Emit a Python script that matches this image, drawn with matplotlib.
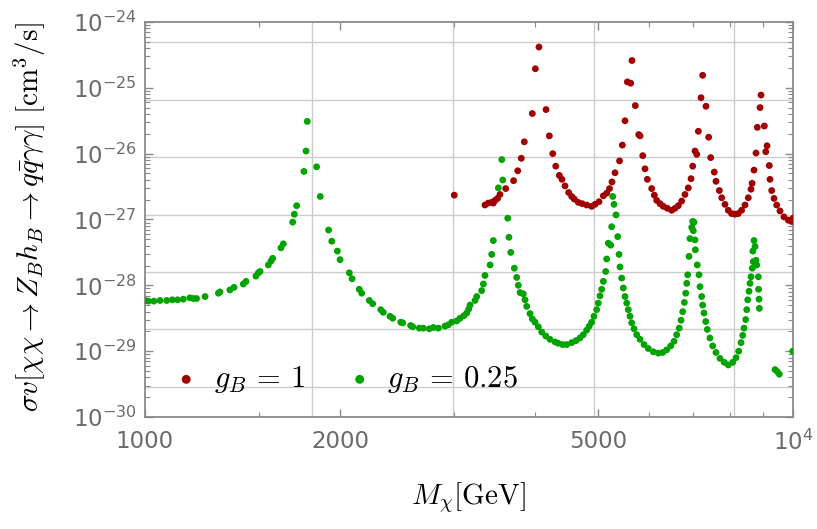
import numpy as np
import matplotlib
matplotlib.use("Agg")
import matplotlib.pyplot as plt
from matplotlib.ticker import FixedLocator, LogLocator, NullFormatter

plt.rcParams.update({
    "font.family": "DejaVu Sans",
    "mathtext.fontset": "cm",
})

# g_B = 1 (red): mass [GeV], log10(sigma v [cm^3/s])
mass_r = [3001, 3347, 3387, 3428, 3448, 3468, 3500, 3530, 3603, 3705,
          3760, 3808, 3849, 3960, 4003, 4055, 4158, 4207, 4258, 4304,
          4359, 4400, 4448, 4506, 4555, 4597, 4663, 4730, 4804, 4890,
          4948, 5019, 5097, 5158, 5210, 5256, 5313, 5399, 5453, 5505,
          5551, 5618, 5643, 5710, 5780, 5807, 5863, 5910, 5960, 6053,
          6109, 6162, 6234, 6307, 6398, 6498, 6575, 6653, 6733, 6813,
          6893, 6960, 7002, 7060, 7103, 7144, 7212, 7254, 7340, 7411,
          7464, 7559, 7606, 7697, 7762, 7853, 7945, 8040, 8136, 8232,
          8331, 8432, 8531, 8614, 8648, 8706, 8769, 8809, 8895, 8926,
          9031, 9077, 9119, 9192, 9215, 9271, 9348, 9437, 9548, 9685,
          9833, 9954, 10000]
logsv_r = [-26.63, -26.78, -26.75, -26.74, -26.75, -26.71, -26.68, -26.62, -26.53, -26.41,
           -26.26, -26.07, -25.82, -25.39, -24.71, -24.38, -25.33, -25.73, -26.00, -26.19,
           -26.33, -26.39, -26.49, -26.59, -26.65, -26.69, -26.74, -26.76, -26.78, -26.80,
           -26.77, -26.73, -26.64, -26.60, -26.53, -26.43, -26.29, -26.11, -25.87, -25.50,
           -24.91, -24.93, -24.585, -25.27, -25.71, -25.73, -26.03, -26.23, -26.39, -26.53,
           -26.63, -26.71, -26.76, -26.80, -26.83, -26.86, -26.83, -26.79, -26.72, -26.62,
           -26.52, -26.38, -26.19, -25.96, -26.01, -25.66, -25.15, -24.81, -25.28, -25.75,
           -26.06, -26.28, -26.42, -26.56, -26.67, -26.77, -26.86, -26.91, -26.92, -26.91,
           -26.86, -26.78, -26.67, -26.54, -26.45, -26.25, -25.99, -25.60, -25.30, -25.11,
           -25.58, -25.97, -25.88, -26.18, -26.39, -26.56, -26.68, -26.78, -26.87, -26.96,
           -27.01, -27.03, -26.98]

# g_B = 0.25 (green)
mass_g = [1000, 1012, 1032, 1055, 1080, 1102, 1123, 1146, 1173, 1187,
          1201, 1238, 1298, 1305, 1352, 1372, 1418, 1432, 1483, 1496,
          1505, 1550, 1565, 1574, 1621, 1635, 1690, 1700, 1714, 1759,
          1772, 1780, 1840, 1864, 1920, 1942, 1981, 2000, 2067, 2087,
          2141, 2160, 2219, 2246, 2311, 2332, 2388, 2411, 2481, 2499,
          2570, 2589, 2650, 2688, 2746, 2786, 2836, 2904, 2938, 2974,
          3027, 3063, 3107, 3137, 3159, 3174, 3231, 3251, 3308, 3328,
          3347, 3408, 3428, 3448, 3510, 3553, 3565, 3629, 3645, 3668,
          3715, 3746, 3768, 3791, 3835, 3859, 3882, 3928, 3960, 3999,
          4046, 4095, 4154, 4217, 4293, 4343, 4411, 4475, 4555, 4625,
          4691, 4746, 4804, 4848, 4890, 4930, 4978, 5006, 5037, 5067,
          5097, 5140, 5158, 5188, 5232, 5250, 5270, 5294, 5332, 5364,
          5389, 5408, 5440, 5472, 5505, 5539, 5570, 5604, 5638, 5684,
          5739, 5807, 5890, 5980, 6087, 6196, 6294, 6384, 6476, 6553,
          6614, 6675, 6717, 6758, 6797, 6830, 6855, 6879, 6911, 6934,
          6978, 7002, 7017, 7034, 7060, 7068, 7117, 7160, 7186, 7229,
          7254, 7289, 7333, 7374, 7445, 7517, 7606, 7714, 7834, 7945,
          8070, 8166, 8245, 8314, 8364, 8402, 8453, 8484, 8514, 8553,
          8583, 8614, 8654, 8684, 8670, 8706, 8738, 8769, 8791, 8842,
          8848, 8863, 8873, 9380, 9457, 9525, 9990]
logsv_g = [-28.23, -28.24, -28.24, -28.23, -28.23, -28.22, -28.22, -28.21, -28.19, -28.20,
           -28.20, -28.17, -28.12, -28.10, -28.07, -28.03, -27.98, -27.94, -27.86, -27.81,
           -27.79, -27.69, -27.63, -27.59, -27.43, -27.37, -27.04, -26.92, -26.79, -26.27,
           -25.96, -25.51, -26.20, -26.65, -27.16, -27.33, -27.48, -27.61, -27.81, -27.90,
           -28.06, -28.12, -28.23, -28.28, -28.37, -28.41, -28.47, -28.50, -28.56, -28.57,
           -28.61, -28.63, -28.65, -28.65, -28.66, -28.64, -28.65, -28.62, -28.60, -28.56,
           -28.54, -28.50, -28.46, -28.42, -28.36, -28.30, -28.23, -28.17, -28.08, -27.98,
           -27.85, -27.69, -27.53, -27.32, -26.52, -26.09, -26.40, -26.98, -27.27, -27.50,
           -27.74, -27.88, -28.00, -28.11, -28.13, -28.22, -28.32, -28.43, -28.51, -28.56,
           -28.63, -28.71, -28.77, -28.82, -28.86, -28.88, -28.90, -28.90, -28.87, -28.84,
           -28.80, -28.75, -28.68, -28.62, -28.56, -28.47, -28.37, -28.27, -28.16, -28.06,
           -27.94, -27.79, -27.60, -27.36, -27.39, -27.11, -26.65, -26.77, -26.93, -27.26,
           -27.53, -27.72, -27.89, -28.04, -28.17, -28.27, -28.37, -28.47, -28.57, -28.66,
           -28.75, -28.82, -28.90, -28.96, -29.01, -29.03, -29.02, -28.98, -28.92, -28.85,
           -28.75, -28.65, -28.53, -28.40, -28.26, -28.12, -27.97, -27.84, -27.56, -27.29,
           -27.12, -27.03, -27.17, -27.04, -27.31, -27.46, -27.69, -27.84, -28.02, -28.17,
           -28.30, -28.42, -28.55, -28.67, -28.80, -28.92, -29.02, -29.11, -29.17, -29.21,
           -29.17, -29.10, -29.00, -28.87, -28.76, -28.65, -28.52, -28.37, -28.22, -28.09,
           -27.97, -27.87, -27.74, -27.64, -27.48, -27.32, -27.41, -27.62, -27.69, -27.87,
           -28.06, -28.21, -28.35, -29.28, -29.31, -29.35, -29.00]

x_ticks = [1000, 2000, 5000, 10000]
x_ticklabels = ["1000", "2000", "5000", r"$\mathregular{10^{4}}$"]
x_minor = [1500, 3000, 4000, 6000, 7000, 8000, 9000]
y_exps = [-30, -29, -28, -27, -26, -25, -24]
grid_x = [1812, 2985, 4934, 8119]
grid_logy = [-24.31, -25.18, -26.055, -26.93, -27.80, -28.67, -29.545]

C_RED = "#a00000"
C_GREEN = "#00a300"
C_FRAME = "#8a8a8a"
C_LABEL = "#6a6a6a"
C_GRID = "#cccccc"

fig = plt.figure(figsize=(8.17, 5.29), dpi=100)
ax = fig.add_axes([145/817, 112/529, 648/817, 395/529])
ax.set_xscale("log")
ax.set_yscale("log")
ax.set_xlim(1000, 10000)
ax.set_ylim(1e-30, 1e-24)

for gx in grid_x:
    ax.axvline(gx, color=C_GRID, lw=1.0, zorder=0)
for gy in grid_logy:
    ax.axhline(10.0**gy, color=C_GRID, lw=1.0, zorder=0)

ax.scatter(mass_r, 10.0**np.array(logsv_r), s=24, color=C_RED, edgecolors="none",
           zorder=3, label=r"$g_B\,=\,1$")
ax.scatter(mass_g, 10.0**np.array(logsv_g), s=24, color=C_GREEN, edgecolors="none",
           zorder=3, label=r"$g_B\,=\,0.25$")

ax.xaxis.set_major_locator(FixedLocator(x_ticks))
ax.set_xticklabels(x_ticklabels)
ax.xaxis.set_minor_locator(FixedLocator(x_minor))
ax.xaxis.set_minor_formatter(NullFormatter())
ax.yaxis.set_major_locator(FixedLocator([10.0**e for e in y_exps]))
ax.set_yticklabels([r"$\mathregular{10^{%d}}$" % e for e in y_exps])
ax.yaxis.set_minor_locator(LogLocator(base=10, subs=np.arange(2, 10), numticks=20))
ax.yaxis.set_minor_formatter(NullFormatter())

ax.tick_params(which="both", direction="in", top=True, right=True,
               color=C_FRAME, labelcolor=C_LABEL, labelsize=16.5)
ax.tick_params(which="major", length=6, width=1.0)
ax.tick_params(which="minor", length=3.5, width=0.8)
ax.tick_params(axis="x", which="both", pad=9)
ax.tick_params(axis="y", which="both", pad=6)
for sp in ax.spines.values():
    sp.set_color(C_FRAME)
    sp.set_linewidth(1.3)

ax.legend(loc="center left", bbox_to_anchor=(0.04, 0.094), frameon=False, ncol=2,
          fontsize=22, handlelength=1.0, handletextpad=0.4, columnspacing=1.3,
          borderpad=0, borderaxespad=0, markerscale=1.3, scatterpoints=1)

fig.text(30/817, 1 - 217/529,
         r"$\sigma v[\chi\chi \rightarrow Z_B h_B \rightarrow q\bar{q}\gamma\gamma]\ [\mathrm{cm}^3/\mathrm{s}]$",
         rotation=90, ha="center", va="center", fontsize=21)
fig.text(469/817, 1 - 498/529, r"$M_\chi[\mathrm{GeV}]$", ha="center", va="center", fontsize=21)

fig.savefig("out.png", dpi=100)
